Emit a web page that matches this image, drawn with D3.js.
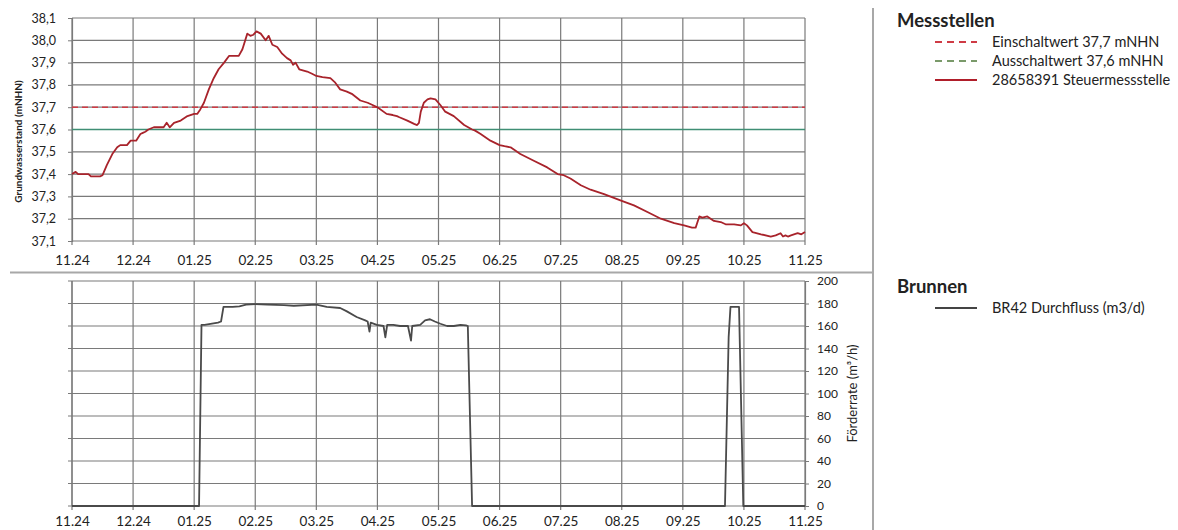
<!DOCTYPE html>
<html>
<head>
<meta charset="utf-8">
<script src="https://cdn.jsdelivr.net/npm/d3@7"></script>
<style>
  html, body { margin: 0; padding: 0; background: #fff; }
  svg { display: block; }
  text { font-family: Lato, "Open Sans", "Noto Sans", sans-serif; fill: #222; }
</style>
</head>
<body>
<svg id="chart" width="1178" height="530"></svg>
<script>
// Month labels along both time axes (month index 0 = 11.24)
const monthLabels = ["11.24","12.24","01.25","02.25","03.25","04.25","05.25","06.25","07.25","08.25","09.25","10.25","11.25"];

// Groundwater level thresholds (mNHN)
const einschaltwert = 37.7;
const ausschaltwert = 37.6;

// Groundwater level, measuring point 28658391: [month index, mNHN]
const levelSeries = [
  [0.00,37.40],[0.06,37.41],[0.10,37.40],[0.27,37.40],[0.31,37.39],[0.46,37.39],[0.50,37.395],
  [0.57,37.44],[0.66,37.49],[0.74,37.52],[0.79,37.53],[0.90,37.53],[0.96,37.55],[1.05,37.55],
  [1.12,37.58],[1.16,37.585],[1.20,37.59],[1.25,37.60],[1.34,37.61],[1.50,37.61],[1.55,37.63],
  [1.60,37.61],[1.67,37.63],[1.78,37.64],[1.89,37.66],[2.00,37.67],[2.05,37.67],[2.10,37.69],
  [2.16,37.72],[2.24,37.78],[2.32,37.83],[2.40,37.87],[2.49,37.90],[2.57,37.93],[2.66,37.93],
  [2.73,37.93],[2.79,37.96],[2.87,38.03],[2.92,38.02],[2.97,38.025],[3.02,38.04],[3.09,38.03],
  [3.17,38.00],[3.22,38.02],[3.28,37.98],[3.36,37.97],[3.44,37.94],[3.52,37.92],[3.58,37.91],
  [3.62,37.89],[3.66,37.90],[3.72,37.87],[3.85,37.86],[3.93,37.85],[4.00,37.84],[4.10,37.835],
  [4.23,37.83],[4.31,37.81],[4.39,37.78],[4.50,37.77],[4.58,37.76],[4.72,37.73],[4.84,37.72],
  [5.00,37.70],[5.15,37.67],[5.25,37.665],[5.32,37.66],[5.36,37.655],[5.49,37.64],[5.60,37.625],
  [5.65,37.62],[5.68,37.63],[5.71,37.68],[5.76,37.72],[5.82,37.735],[5.87,37.74],[5.95,37.735],
  [6.03,37.71],[6.11,37.68],[6.25,37.66],[6.42,37.62],[6.55,37.60],[6.60,37.595],[6.69,37.58],
  [6.85,37.55],[7.00,37.53],[7.08,37.525],[7.18,37.52],[7.34,37.49],[7.56,37.46],[7.78,37.43],
  [7.95,37.40],[8.05,37.395],[8.16,37.38],[8.33,37.35],[8.49,37.33],[8.71,37.31],[9.00,37.28],
  [9.20,37.26],[9.42,37.23],[9.64,37.20],[9.86,37.18],[10.02,37.17],[10.15,37.16],[10.21,37.16],
  [10.27,37.21],[10.32,37.205],[10.40,37.21],[10.51,37.19],[10.62,37.185],[10.70,37.175],
  [10.84,37.175],[10.95,37.17],[11.00,37.18],[11.05,37.17],[11.14,37.14],[11.28,37.13],
  [11.44,37.12],[11.52,37.125],[11.60,37.135],[11.64,37.12],[11.68,37.125],[11.72,37.12],
  [11.77,37.125],[11.88,37.135],[11.94,37.13],[12.00,37.14]
];

// Well BR42 pumping rate: [month index, m³/h]
const flowSeries = [
  [0.00,0],[2.08,0],[2.12,161],[2.17,161],[2.39,163],[2.44,164],[2.48,177],[2.63,177],
  [2.74,177.5],[2.85,179],[3.00,179.5],[3.20,179],[3.47,178.5],[3.63,178],[4.00,179],
  [4.17,177],[4.39,176],[4.50,173],[4.66,168],[4.80,165],[4.84,164],[4.87,155],[4.89,163],
  [4.99,161],[5.10,160],[5.13,150],[5.16,161],[5.26,161],[5.37,160],[5.50,160],[5.55,147],
  [5.57,160],[5.70,161],[5.78,165],[5.86,166],[5.94,164],[6.03,162],[6.14,160],[6.25,160],
  [6.36,161],[6.45,160.5],[6.48,160],[6.55,0],[10.69,0],[10.75,150],[10.78,177],[10.92,177],
  [10.99,0],[12.00,0]
];

// Axis ticks
const levelTicks = [37.1,37.2,37.3,37.4,37.5,37.6,37.7,37.8,37.9,38.0,38.1];
const flowTicks = [0,20,40,60,80,100,120,140,160,180,200];

const svg = d3.select("#chart");
const gridColor = "#7a7a7a";
const fmtComma = d => d.toFixed(1).replace(".", ",");

const x = d3.scaleLinear().domain([0, 12]).range([72, 805]);
const yLevel = d3.scaleLinear().domain([37.1, 38.1]).range([241, 18]);
const yFlow = d3.scaleLinear().domain([0, 200]).range([506, 281]);

// Panel separators
svg.append("line").attr("x1", 10).attr("x2", 873).attr("y1", 272.5).attr("y2", 272.5)
  .attr("stroke", "#a8a8a8").attr("stroke-width", 2);
svg.append("line").attr("x1", 873).attr("x2", 873).attr("y1", 8).attr("y2", 530)
  .attr("stroke", "#a8a8a8").attr("stroke-width", 2);

function drawGrid(yScale, ticks) {
  const g = svg.append("g");
  g.selectAll("line.h").data(ticks).join("line")
    .attr("x1", x(0)).attr("x2", x(12))
    .attr("y1", d => yScale(d)).attr("y2", d => yScale(d))
    .attr("stroke", gridColor).attr("stroke-width", 1.2);
  g.selectAll("line.v").data(d3.range(13)).join("line")
    .attr("x1", d => x(d)).attr("x2", d => x(d))
    .attr("y1", yScale.range()[1]).attr("y2", yScale.range()[0] + 4)
    .attr("stroke", gridColor).attr("stroke-width", 1.2);
  return g;
}

// ---------- Top panel: groundwater level ----------
drawGrid(yLevel, levelTicks);

const axL = svg.append("g").attr("transform", `translate(${x(0)},0)`)
  .call(d3.axisLeft(yLevel).tickValues(levelTicks).tickFormat(fmtComma).tickSize(4).tickPadding(12));
axL.select(".domain").attr("stroke", gridColor).attr("stroke-width", 1.2);
axL.selectAll(".tick line").attr("stroke", gridColor);
axL.selectAll("text").style("font-size", "12.5px").attr("fill", "#222");

const axBt = svg.append("g").attr("transform", `translate(0,${yLevel(37.1)})`)
  .call(d3.axisBottom(x).tickValues(d3.range(13)).tickFormat(i => monthLabels[i]).tickSize(0).tickPadding(14));
axBt.select(".domain").remove();
axBt.selectAll("text").style("font-size", "13.5px").attr("fill", "#222");

// Threshold lines
svg.append("line").attr("x1", x(0)).attr("x2", x(12))
  .attr("y1", yLevel(ausschaltwert)).attr("y2", yLevel(ausschaltwert))
  .attr("stroke", "#3f8e74").attr("stroke-width", 1.5);
svg.append("line").attr("x1", x(0)).attr("x2", x(12))
  .attr("y1", yLevel(einschaltwert)).attr("y2", yLevel(einschaltwert))
  .attr("stroke", "#cf3b45").attr("stroke-width", 1.6).attr("stroke-dasharray", "6,4");

svg.append("path").datum(levelSeries)
  .attr("fill", "none").attr("stroke", "#a8232b").attr("stroke-width", 1.8)
  .attr("stroke-linejoin", "round")
  .attr("d", d3.line().x(d => x(d[0])).y(d => yLevel(d[1])));

svg.append("text").attr("transform", `translate(22,${(yLevel(37.1) + yLevel(38.1)) / 2 + 12}) rotate(-90)`)
  .attr("text-anchor", "middle").style("font-size", "10px").style("font-weight", "bold")
  .text("Grundwasserstand (mNHN)");

// ---------- Bottom panel: pumping rate ----------
drawGrid(yFlow, flowTicks);

svg.append("line").attr("x1", x(0)).attr("x2", x(0)).attr("y1", yFlow(200)).attr("y2", yFlow(0))
  .attr("stroke", gridColor).attr("stroke-width", 1.2);
svg.selectAll("line.ltick").data(flowTicks).join("line")
  .attr("x1", x(0) - 4).attr("x2", x(0)).attr("y1", d => yFlow(d)).attr("y2", d => yFlow(d))
  .attr("stroke", gridColor);

const axR = svg.append("g").attr("transform", `translate(${x(12)},0)`)
  .call(d3.axisRight(yFlow).tickValues(flowTicks).tickSize(4).tickPadding(8));
axR.select(".domain").attr("stroke", gridColor).attr("stroke-width", 1.2);
axR.selectAll(".tick line").attr("stroke", gridColor);
axR.selectAll("text").style("font-size", "12px").attr("fill", "#222");

const axBb = svg.append("g").attr("transform", `translate(0,${yFlow(0)})`)
  .call(d3.axisBottom(x).tickValues(d3.range(13)).tickFormat(i => monthLabels[i]).tickSize(0).tickPadding(10));
axBb.select(".domain").remove();
axBb.selectAll("text").style("font-size", "13.5px").attr("fill", "#222");

svg.append("path").datum(flowSeries)
  .attr("fill", "none").attr("stroke", "#4a4a4a").attr("stroke-width", 1.8)
  .attr("stroke-linejoin", "round")
  .attr("d", d3.line().x(d => x(d[0])).y(d => yFlow(d[1])));

svg.append("text").attr("transform", `translate(857,${(yFlow(0) + yFlow(200)) / 2}) rotate(-90)`)
  .attr("text-anchor", "middle").style("font-size", "13px")
  .text("Förderrate (m³/h)");

// ---------- Legends ----------
function legend(title, titleY, items) {
  svg.append("text").attr("x", 897).attr("y", titleY)
    .style("font-size", "18.5px").style("font-weight", "bold").attr("fill", "#111").text(title);
  items.forEach((it, i) => {
    const yy = titleY + 15 + i * 19;
    svg.append("line").attr("x1", 935).attr("x2", 977).attr("y1", yy).attr("y2", yy)
      .attr("stroke", it.color).attr("stroke-width", 2)
      .attr("stroke-dasharray", it.dash || null);
    svg.append("text").attr("x", 992).attr("y", yy + 5)
      .style("font-size", "14.5px").attr("fill", "#222").text(it.label);
  });
}
legend("Messstellen", 27, [
  { label: "Einschaltwert 37,7 mNHN", color: "#cf3b45", dash: "7,5" },
  { label: "Ausschaltwert 37,6 mNHN", color: "#7a9a6a", dash: "7,5" },
  { label: "28658391 Steuermessstelle", color: "#b01e2a" }
]);
legend("Brunnen", 293, [
  { label: "BR42 Durchfluss (m3/d)", color: "#444" }
]);
</script>
</body>
</html>
